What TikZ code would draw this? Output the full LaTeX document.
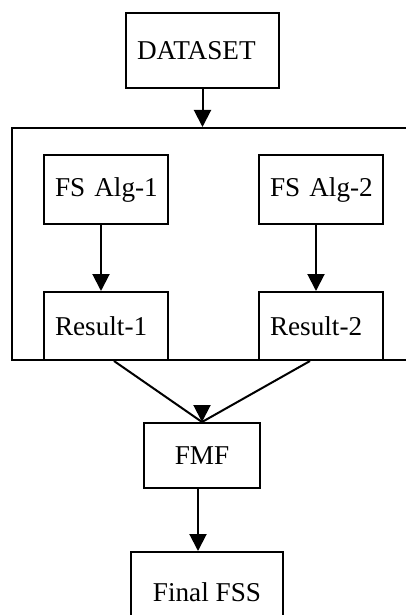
\documentclass[tikz,border=0pt]{standalone}
\usepackage{fontspec}
\setmainfont{Liberation Serif}
\usetikzlibrary{positioning, arrows.meta}
\tikzset{
    >={Triangle[length=8.5pt, width=8.5pt]}, % filled arrowheads
    every node/.style={font=\fontsize{13.6}{15}\selectfont},
    box/.style={draw, line width=1pt, rectangle, inner xsep=5.5pt}, % plain box
    leftbox/.style={box, align=left, text width=#1}, % text set on the left
    link/.style={->, line width=1pt},
}
\begin{document}
\begin{tikzpicture}
    \clip (0,0) rectangle (203pt,-307.5pt);

    \node[leftbox=65.5pt, minimum height=37.5pt] (data) at (101.25pt,-25.25pt) {\mbox{DATASET}};
    \node[box, anchor=north west, minimum width=220pt, minimum height=116pt] (frame) at (5.5pt,-63.5pt) {};

    \node[leftbox=51pt, minimum height=34.5pt] (alg1) [below right=13.5pt and 16pt of frame.north west] {\mbox{FS Alg-1}};
    \node[leftbox=51pt, minimum height=34.5pt] (alg2) [right=44.5pt of alg1] {\mbox{FS Alg-2}};
    \node[leftbox=51pt, minimum height=34pt] (res1) [above right=0pt and 16pt of frame.south west] {\mbox{Result-1}};
    \node[leftbox=51pt, minimum height=34pt] (res2) [right=44.5pt of res1] {\mbox{Result-2}};

    \node[box, minimum width=58pt, minimum height=32.5pt] (fmf) at (101pt,-227.75pt) {FMF};
    \node[box, anchor=north, minimum width=76pt, minimum height=40pt] (final) at (103.5pt,-275.5pt) {Final FSS};

    \draw[link] (data) -- (data |- frame.north);
    \draw[link] ([xshift=-2.5pt]alg1.south) -- ([xshift=-2.5pt]res1.north);
    \draw[link] ([xshift=-2.5pt]alg2.south) -- ([xshift=-2.5pt]res2.north);
    \draw[line width=1pt] ([xshift=4pt]res1.south) -- (fmf.north);
    \draw[line width=1pt] ([xshift=-5.5pt]res2.south) -- (fmf.north);
    \draw[link] ([yshift=8pt]fmf.north) -- (fmf.north);
    \draw[link] ([xshift=-2pt]fmf.south) -- ([xshift=-2pt]fmf.south |- final.north);
\end{tikzpicture}
\end{document}
